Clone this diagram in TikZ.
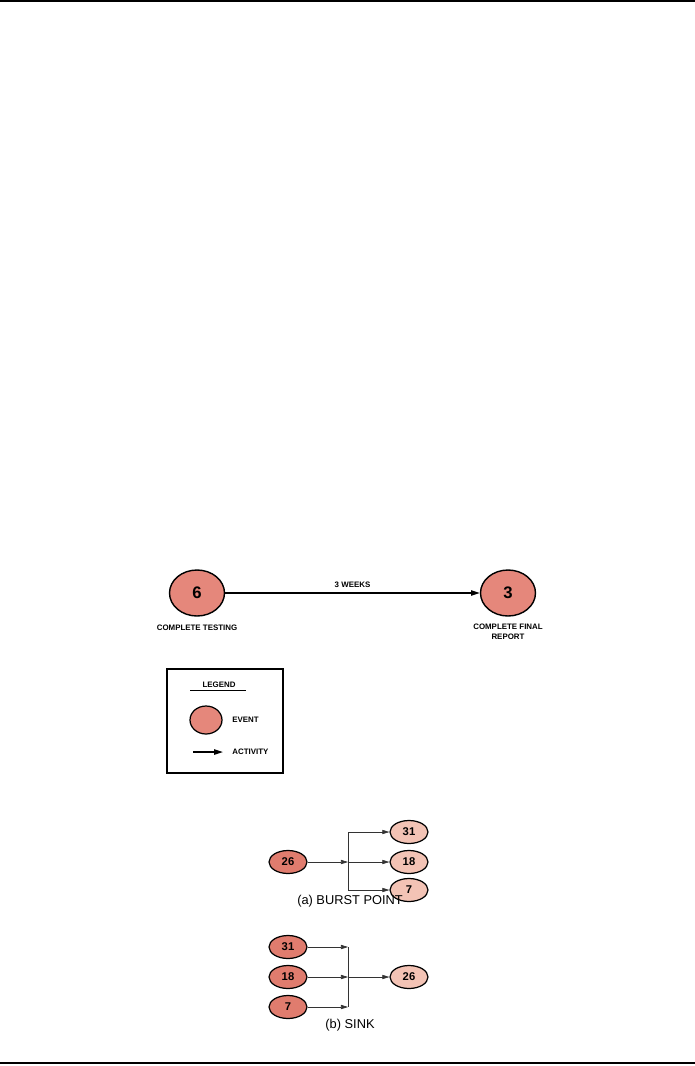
\documentclass[tikz,border=0pt]{standalone}
\usepackage{fontspec}
\setmainfont{Liberation Sans}
\usepackage{tikz}
\usetikzlibrary{shapes.geometric, arrows.meta, positioning, calc}

\definecolor{evfill}{HTML}{E5877B}
\definecolor{evdark}{HTML}{E07C6E}
\definecolor{evlight}{HTML}{F3C3B5}

\begin{document}
\begin{tikzpicture}[
    x=0.02cm, y=-0.02cm,
    bigev/.style={draw, ellipse, fill=evfill, line width=0.8pt, minimum width=1.1cm, minimum height=0.92cm, inner sep=0pt, font=\fontsize{9.5}{10}\selectfont\bfseries},
    smallev/.style={draw, ellipse, line width=0.7pt, minimum width=0.76cm, minimum height=0.46cm, inner sep=0pt, font=\fontsize{6.4}{7}\selectfont\bfseries},
    tag/.style={inner sep=0pt, align=center, font=\fontsize{4.5}{5.6}\selectfont\bfseries},
    caption/.style={inner sep=0pt, font=\fontsize{7.3}{8}\selectfont},
    act/.style={-{Triangle[length=5pt, width=3pt]}, line width=0.8pt},
    flow/.style={-{Triangle[length=4pt, width=2.4pt]}, line width=0.35pt, draw=black!80}
]
\useasboundingbox (0,0) rectangle (695,1066);
\draw[line width=1.2pt] (0,1) -- (695,1);
\draw[line width=1.6pt] (0,1063) -- (695,1063);

\node[bigev] (ev6) at (197,593) {6};
\node[bigev] (ev3) at (508,593) {3};
\draw[act] (ev6) -- node[tag, above=0.1cm] (wk) {3 WEEKS} (ev3);
\node[tag, below=0.16cm of ev6] (t6) {COMPLETE TESTING};
\node[tag, below=0.14cm of ev3] (t3) {COMPLETE FINAL\\REPORT};

\node[draw, line width=0.6pt, minimum width=2.32cm, minimum height=2.08cm] (legendbox) at (225,721) {};
\node[tag] (lg) at (219,685) {LEGEND};
\draw[line width=0.5pt] (190,690) -- (246,690);
\node[draw, ellipse, fill=evfill, line width=0.7pt, minimum width=0.64cm, minimum height=0.56cm] (lev) at (206,720) {};
\node[tag, anchor=west] (levt) at (232,720) {EVENT};
\coordinate (la) at (193,752);
\coordinate (lb) at (223,752);
\draw[act] (la) -- (lb);
\node[tag, anchor=west] (lact) at (232,752) {ACTIVITY};

\node[smallev, fill=evdark] (b26) at (288,862) {26};
\node[smallev, fill=evlight] (b31) at (409,832) {31};
\node[smallev, fill=evlight] (b18) at (409,862) {18};
\node[smallev, fill=evlight] (b7) at (409,890) {7};
\coordinate (bj) at (348,862);
\draw[flow] (b26) -- (bj);
\draw[flow] (bj) |- (b31);
\draw[flow] (bj) -- (b18);
\draw[flow] (bj) |- (b7);
\node[caption] (bcap) at (350,901) {(a) BURST POINT};

\node[smallev, fill=evdark] (s31) at (288,947) {31};
\node[smallev, fill=evdark] (s18) at (288,977) {18};
\node[smallev, fill=evdark] (s7) at (288,1007) {7};
\node[smallev, fill=evlight] (s26) at (409,977) {26};
\coordinate (sj) at (348,977);
\draw[flow] (s31) -- (s31 -| sj);
\draw[flow] (s18) -- (sj);
\draw[flow] (s7) -- (s7 -| sj);
\draw[line width=0.35pt, draw=black!80] (s31 -| sj) -- (s7 -| sj);
\draw[flow] (sj) -- (s26);
\node[caption] (scap) at (350,1025) {(b) SINK};
\end{tikzpicture}
\end{document}
